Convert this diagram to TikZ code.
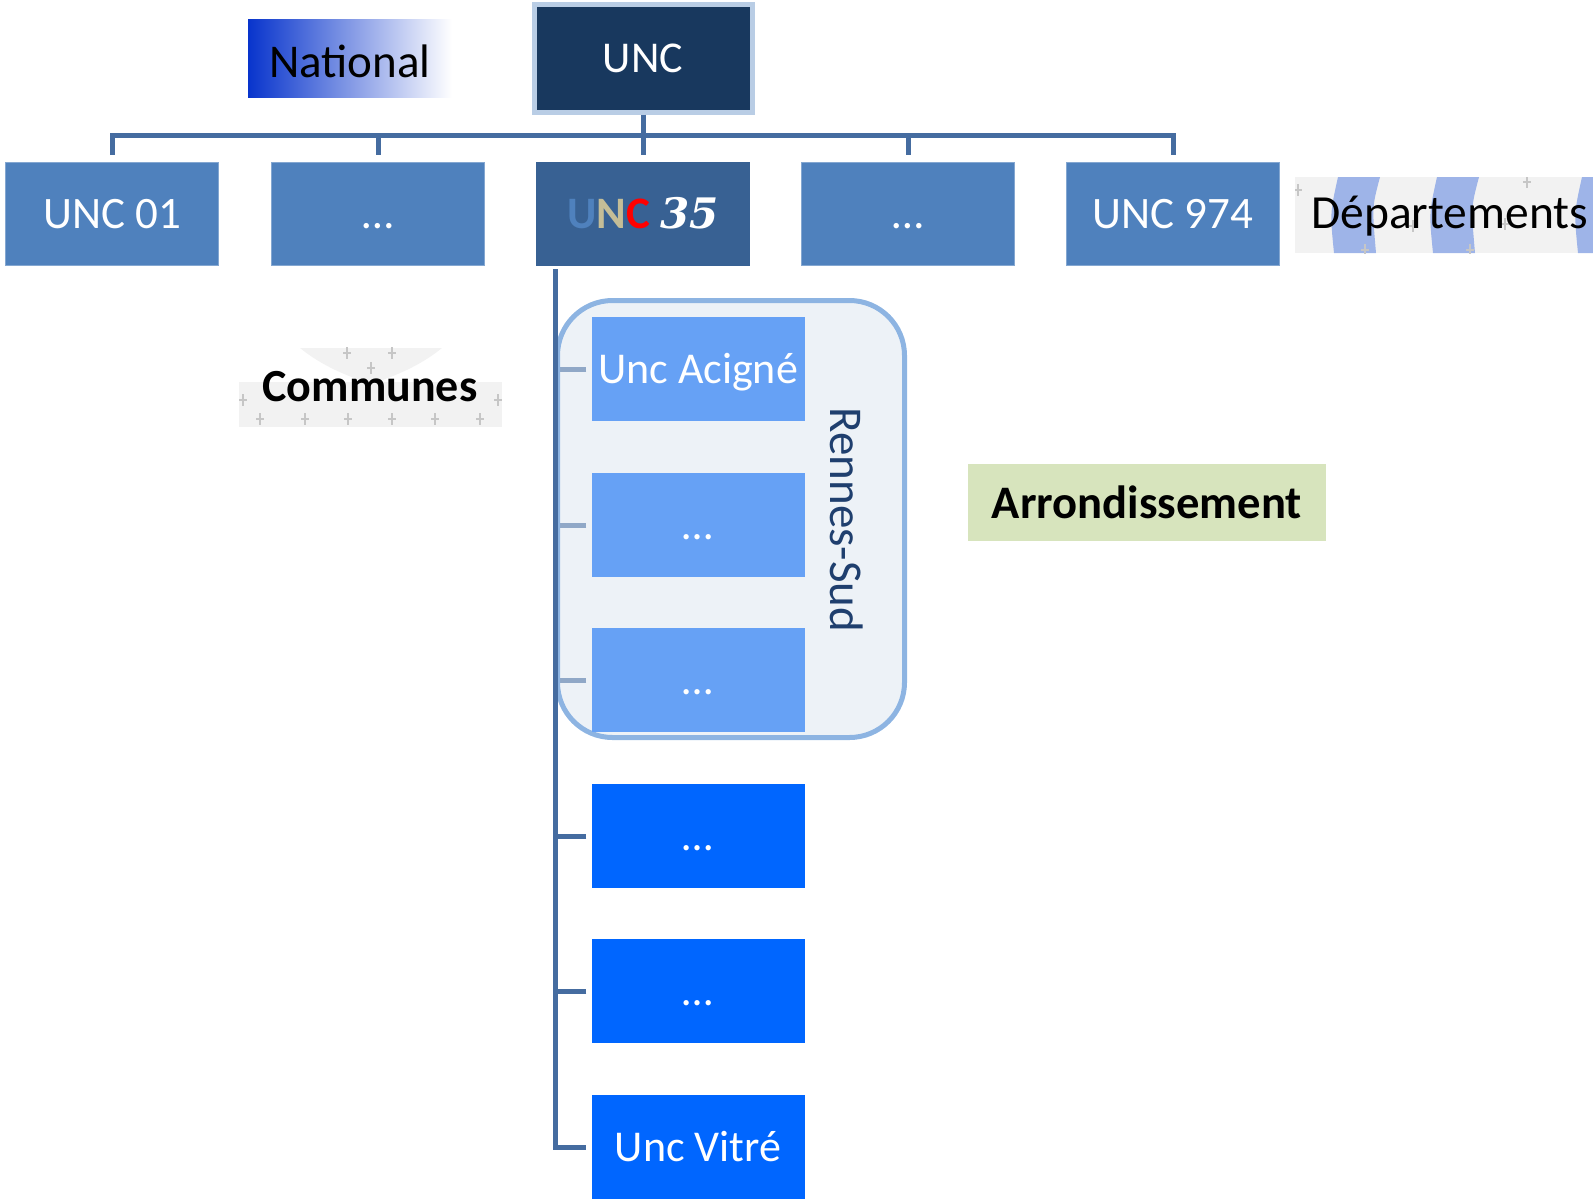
\documentclass[tikz,border=0pt]{standalone}
\usepackage{fontspec}
\setmainfont{Carlito}
\newfontfamily\numfont{DejaVu Serif}
\usetikzlibrary{backgrounds}

\definecolor{deptblue}{RGB}{79,129,189}
\definecolor{dept35}{RGB}{56,97,147}
\definecolor{uncnavy}{RGB}{24,56,94}
\definecolor{uncrim}{RGB}{185,205,229}
\definecolor{linkblue}{RGB}{69,108,160}
\definecolor{comlight}{RGB}{102,161,245}
\definecolor{combright}{RGB}{0,102,255}
\definecolor{grpfill}{RGB}{219,229,239}
\definecolor{grpline}{RGB}{141,180,226}
\definecolor{rennes}{RGB}{31,63,110}
\definecolor{arrgreen}{RGB}{215,228,189}
\definecolor{natblue}{RGB}{8,52,204}
\definecolor{band}{RGB}{158,180,232}
\definecolor{uncsand}{RGB}{196,189,151}

\begin{document}
\begin{tikzpicture}[x=1pt,y=-1pt,
  box/.style={rectangle, inner sep=0pt, minimum width=213pt, minimum height=103pt,
    text=white, text height=29pt, text depth=0pt, font=\fontsize{45}{54}\selectfont},
  dept/.style={box, fill=deptblue, draw=deptblue!70!white, line width=0.8pt},
  commune/.style={box, minimum height=104pt, font=\fontsize{44}{52}\selectfont},
  grp/.style={rectangle, minimum width=347pt, minimum height=437pt, rounded corners=55pt,
    draw=grpline, line width=5pt, fill=grpfill, fill opacity=0.5},
  link/.style={draw=linkblue, line width=5pt},
  ermine/.style={draw=gray!45, line width=2pt}]
\useasboundingbox (0,0) rectangle (1593,1200);

% national level
\node[box, fill=uncnavy, draw=uncrim, line width=5pt, minimum width=218pt,
  minimum height=108pt, font=\fontsize{44}{52}\selectfont] (unc) at (643,58) {UNC};
\node[box, minimum width=204pt, minimum height=78pt, left color=natblue,
  right color=white, text=black, text height=38pt, font=\fontsize{47}{56}\selectfont]
  (nat) at (350,58) {National};

% departements
\foreach \n/\x/\t in {d1/112/UNC 01, d2/378/…, d4/908/…, d5/1173/UNC 974}
  \node[dept] (\n) at (\x,213.5) {\t};
\node[dept, fill=dept35, draw=dept35] (d3) at (643,213.5)
  {\bfseries\textcolor{deptblue}{U}\textcolor{uncsand}{N}\textcolor{red}{C}
   {\numfont\bfseries\itshape\fontsize{42}{50}\selectfont 35}};

\coordinate (bus) at (643,135);
\draw[link, shorten <=7pt, shorten >=7pt] (d1.north) |- (bus) -| (d5.north);
\foreach \n in {d2,d3,d4}
  \draw[link, shorten <=7pt] (\n.north) -- (\n.north |- bus);
\draw[link] (unc.south) -- (bus);

\begin{scope}
\clip (1295,177) rectangle (1593,253);
\fill[gray!10] (1295,177) rectangle (1593,253);
\foreach \x in {1338,1437,1582}
  \fill[band] (\x,177) -- ++(42,0) .. controls ++(-8,30) .. ++(-4,76) -- ++(-42,0)
    .. controls ++(-4,-40) .. cycle;
\foreach \x/\y in {1298/190, 1413/226, 1505/224, 1527/182, 1365/250, 1470/250}
  \draw[ermine] (\x,\y-6) -- (\x,\y+6) (\x-4,\y) -- (\x+4,\y);
\end{scope}
\node[anchor=base west, inner sep=0pt, font=\fontsize{47.5}{56}\selectfont]
  (dep) at (1311,228) {Départements};

% communes
\fill[gray!10] (239,382) rectangle (502,427);
\fill[gray!10] (300,348) -- (442,348) .. controls (420,366) and (395,376) .. (371,384)
  .. controls (347,376) and (322,366) .. (300,348) -- cycle;
\foreach \x/\y in {347/353, 392/353, 371/368, 260/419, 305/419, 348/419, 392/419,
    435/419, 480/419, 243/400, 498/400}
  \draw[ermine] (\x,\y-6) -- (\x,\y+6) (\x-4,\y) -- (\x+4,\y);
\node[anchor=base, inner sep=0pt, font=\fontsize{46}{54}\selectfont\bfseries]
  (com) at (370,401) {Communes};

% arrondissement Rennes-Sud
\node[grp] (rs) at (731,519) {};
\foreach \n/\y/\t in {c1/369/Unc Acigné, c2/525/…, c3/680/…}
  \node[commune, fill=comlight] (\n) at (698,\y) {\t};
\foreach \n/\y/\t in {c4/836/…, c5/991/…, c6/1147/Unc Vitré}
  \node[commune, fill=combright] (\n) at (698,\y) {\t};
\node[rotate=-90, inner sep=0pt, text=rennes, text height=30pt, text depth=0pt,
  font=\fontsize{47}{56}\selectfont] (rsname) at (845,520) {Rennes-Sud};

\coordinate (trunk) at (555,269);
\begin{scope}[on background layer]
\foreach \n in {c1,c2,c3}
  \draw[link, shorten <=5pt] (\n.west) -- (\n.west -| trunk);
\end{scope}
\foreach \n in {c4,c5}
  \draw[link, shorten <=5pt] (\n.west) -- (\n.west -| trunk);
\draw[link, shorten >=5pt] (trunk) |- (c6.west);

\node[box, minimum width=358pt, minimum height=77pt, fill=arrgreen, text=black,
  text height=31pt, font=\fontsize{46.6}{56}\selectfont\bfseries]
  (arr) at (1147,502.5) {Arrondissement};
\end{tikzpicture}
\end{document}
